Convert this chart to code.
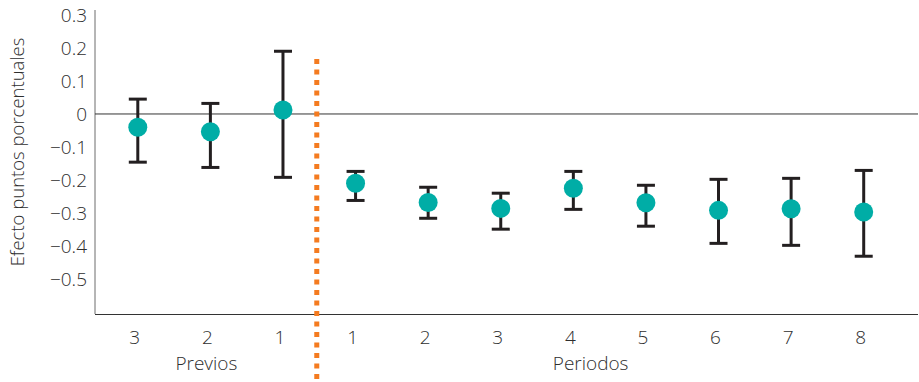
<!DOCTYPE html>
<html>
<head>
<meta charset="utf-8">
<script src="https://cdn.jsdelivr.net/npm/d3@7"></script>
<style>
  body { margin: 0; background: #fff; }
  text { font-family: "Open Sans", "Noto Sans", sans-serif; font-weight: 300; fill: #2e2e2e; }
</style>
</head>
<body>
<div class="content"></div>
<script>
//--> Data
const groups = ["Previos", "Previos", "Previos", "Periodos", "Periodos", "Periodos", "Periodos", "Periodos", "Periodos", "Periodos", "Periodos"];
const tickLabels = ["3", "2", "1", "1", "2", "3", "4", "5", "6", "7", "8"];
const estimates = [-0.040, -0.054, 0.012, -0.210, -0.268, -0.286, -0.225, -0.269, -0.292, -0.287, -0.297];
const upper = [0.045, 0.032, 0.190, -0.174, -0.222, -0.240, -0.174, -0.216, -0.198, -0.195, -0.171];
const lower = [-0.146, -0.162, -0.192, -0.262, -0.316, -0.349, -0.289, -0.340, -0.392, -0.398, -0.431];
const yTicks = [0.3, 0.2, 0.1, 0, -0.1, -0.2, -0.3, -0.4, -0.5];

//--> Constants
const width = 919;
const height = 382;
const margin = { top: 10, right: 1, bottom: 68, left: 95 };
const capWidth = 18;
const fontSize = 19;

const svg = d3
  .select(".content")
  .append("svg")
  .attr("width", width)
  .attr("height", height);

const keys = tickLabels.map((d, i) => i);

const x = d3
  .scaleBand()
  .domain(keys)
  .range([101.5, 900]);

const y = d3
  .scaleLinear()
  .domain([-0.606, 0.315])
  .range([height - margin.bottom, margin.top]);

const cx = i => x(i) + x.bandwidth() / 2;

//--> Axes lines
svg
  .append("line")
  .attr("x1", margin.left)
  .attr("x2", margin.left)
  .attr("y1", margin.top)
  .attr("y2", y.range()[0])
  .attr("stroke", "#6d6d6d")
  .attr("stroke-width", 1);

svg
  .append("line")
  .attr("x1", margin.left)
  .attr("x2", width - margin.right)
  .attr("y1", y.range()[0] + 0.5)
  .attr("y2", y.range()[0] + 0.5)
  .attr("stroke", "#333")
  .attr("stroke-width", 1.2);

svg
  .append("line")
  .attr("x1", margin.left)
  .attr("x2", width - margin.right)
  .attr("y1", y(0))
  .attr("y2", y(0))
  .attr("stroke", "#333")
  .attr("stroke-width", 1);

//--> Y tick labels
svg
  .selectAll(".ytick")
  .data(yTicks)
  .enter()
  .append("text")
  .attr("class", "ytick")
  .attr("x", 87)
  .attr("y", d => y(d))
  .attr("dy", "0.36em")
  .attr("text-anchor", "end")
  .attr("font-size", `${fontSize}px`)
  .text(d => (d === 0 ? "0" : d3.format(".1f")(d)));

//--> Y axis title
svg
  .append("text")
  .attr("transform", `translate(24, 152) rotate(-90)`)
  .attr("text-anchor", "middle")
  .attr("font-size", "18.5px")
  .text("Efecto puntos porcentuales");

//--> X tick labels
svg
  .selectAll(".xtick")
  .data(keys)
  .enter()
  .append("text")
  .attr("class", "xtick")
  .attr("x", d => cx(d) - 3)
  .attr("y", 337)
  .attr("dy", "0.36em")
  .attr("text-anchor", "middle")
  .attr("font-size", `${fontSize}px`)
  .text(d => tickLabels[d]);

//--> Group labels
const groupNames = Array.from(new Set(groups));
const groupCenter = name => {
  const idx = keys.filter(i => groups[i] === name);
  return name === "Previos"
    ? cx(idx[1]) - 4
    : (cx(idx[3]) + cx(idx[4])) / 2 - 19;
};

svg
  .selectAll(".group")
  .data(groupNames)
  .enter()
  .append("text")
  .attr("class", "group")
  .attr("x", d => groupCenter(d))
  .attr("y", 363)
  .attr("dy", "0.36em")
  .attr("text-anchor", "middle")
  .attr("font-size", `${fontSize}px`)
  .text(d => d);

//--> Separator between groups
const sepX = x(3) - 2.5;
svg
  .append("line")
  .attr("x1", sepX)
  .attr("x2", sepX)
  .attr("y1", 59)
  .attr("y2", height)
  .attr("stroke", "#f47b20")
  .attr("stroke-width", 5)
  .attr("stroke-dasharray", "5 5.5");

//--> Error bars
const bars = svg
  .selectAll(".err")
  .data(keys)
  .enter()
  .append("g")
  .attr("class", "err")
  .attr("stroke", "#231f20")
  .attr("stroke-width", 3);

bars
  .append("line")
  .attr("x1", d => cx(d))
  .attr("x2", d => cx(d))
  .attr("y1", d => y(upper[d]))
  .attr("y2", d => y(lower[d]));

bars
  .append("line")
  .attr("x1", d => cx(d) - capWidth / 2)
  .attr("x2", d => cx(d) + capWidth / 2)
  .attr("y1", d => y(upper[d]))
  .attr("y2", d => y(upper[d]));

bars
  .append("line")
  .attr("x1", d => cx(d) - capWidth / 2)
  .attr("x2", d => cx(d) + capWidth / 2)
  .attr("y1", d => y(lower[d]))
  .attr("y2", d => y(lower[d]));

//--> Points
svg
  .selectAll(".pt")
  .data(keys)
  .enter()
  .append("circle")
  .attr("class", "pt")
  .attr("cx", d => cx(d))
  .attr("cy", d => y(estimates[d]))
  .attr("r", 9.5)
  .attr("fill", "#00ada6");
</script>
</body>
</html>
